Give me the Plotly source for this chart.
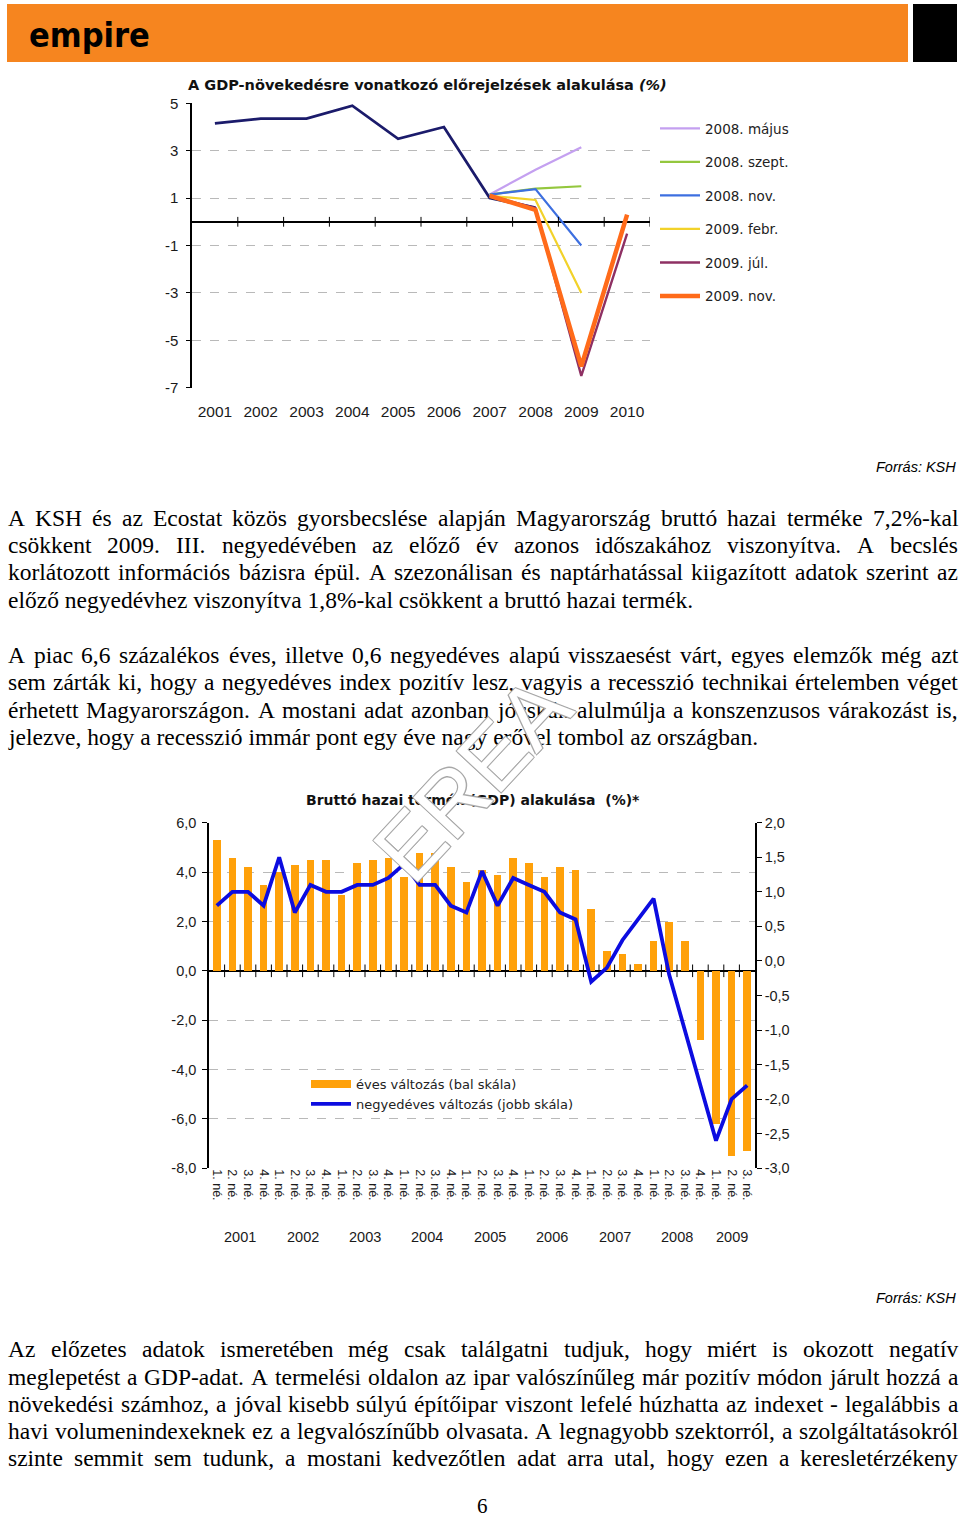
import numpy as np
import plotly.graph_objects as go

W, H = 960, 1521


def px(x):
    return x / W


def py(y):
    return 1 - y / H


# ---------------- top chart data ----------------
top_years = [2001, 2002, 2003, 2004, 2005, 2006, 2007, 2008, 2009, 2010]
actual_years = [2001, 2002, 2003, 2004, 2005, 2006, 2007, 2008]
actual_gdp = [4.15, 4.35, 4.35, 4.9, 3.5, 4.0, 1.0, 0.6]

fc_years3 = [2007, 2008, 2009]
fc_years4 = [2007, 2008, 2009, 2010]
fc_names = ["2008. május", "2008. szept.", "2008. nov.", "2009. febr.", "2009. júl.", "2009. nov."]
fc_2008_majus = [1.15, 2.2, 3.15]
fc_2008_szept = [1.15, 1.4, 1.5]
fc_2008_nov = [1.15, 1.38, -1.0]
fc_2009_febr = [1.1, 0.92, -3.0]
fc_2009_jul = [1.1, 0.58, -6.5, -0.5]
fc_2009_nov = [1.1, 0.5, -6.1, 0.3]
fc_colors = ["#c4a0f0", "#94c73e", "#3d6fe0", "#f2d22a", "#8e3063", "#ff6b1a"]
fc_widths = [2.2, 2.2, 2.2, 2.2, 2.4, 4.5]
top_yticks = [5, 3, 1, -1, -3, -5, -7]

# ---------------- bottom chart data ----------------
years = ["2001", "2002", "2003", "2004", "2005", "2006", "2007", "2008", "2009"]
quarters_per_year = [4, 4, 4, 4, 4, 4, 4, 4, 3]
quarter_labels = ["1. né.", "2. né.", "3. né.", "4. né."]
annual_change = [5.3, 4.6, 4.2, 3.5, 4.0, 4.3, 4.5, 4.5, 3.1, 4.4, 4.5, 4.6,
                 3.8, 4.8, 4.8, 4.2, 3.6, 4.1, 3.9, 4.6, 4.4, 3.8, 4.2, 4.1,
                 2.5, 0.8, 0.7, 0.3, 1.2, 2.0, 1.2, -2.8, -6.2, -7.5, -7.3]
quarterly_change = [0.8, 1.0, 1.0, 0.8, 1.5, 0.7, 1.1, 1.0, 1.0, 1.1, 1.1, 1.2,
                    1.4, 1.1, 1.1, 0.8, 0.7, 1.3, 0.8, 1.2, 1.1, 1.0, 0.7, 0.6,
                    -0.3, -0.1, 0.3, 0.6, 0.9, -0.2, -1.0, -1.8, -2.6, -2.0, -1.8]
left_ticks = [6, 4, 2, 0, -2, -4, -6, -8]
right_ticks = [2.0, 1.5, 1.0, 0.5, 0.0, -0.5, -1.0, -1.5, -2.0, -2.5, -3.0]
bar_name = "éves változás (bal skála)"
line_name = "negyedéves változás (jobb skála)"
bar_color = "#ffa10a"
line_color = "#0c0ce0"

# ---------------- page text ----------------
para1 = [
    "A KSH és az Ecostat közös gyorsbecslése alapján Magyarország bruttó hazai terméke 7,2%-kal",
    "csökkent 2009. III. negyedévében az előző év azonos időszakához viszonyítva. A becslés",
    "korlátozott információs bázisra épül. A szezonálisan és naptárhatással kiigazított adatok szerint az",
    "előző negyedévhez viszonyítva 1,8%-kal csökkent a bruttó hazai termék.",
]
para2 = [
    "A piac 6,6 százalékos éves, illetve 0,6 negyedéves alapú visszaesést várt, egyes elemzők még azt",
    "sem zárták ki, hogy a negyedéves index pozitív lesz, vagyis a recesszió technikai értelemben véget",
    "érhetett Magyarországon. A mostani adat azonban jócskán alulmúlja a konszenzusos várakozást is,",
    "jelezve, hogy a recesszió immár pont egy éve nagy erővel tombol az országban.",
]
para3 = [
    "Az előzetes adatok ismeretében még csak találgatni tudjuk, hogy miért is okozott negatív",
    "meglepetést a GDP-adat. A termelési oldalon az ipar valószínűleg már pozitív módon járult hozzá a",
    "növekedési számhoz, a jóval kisebb súlyú építőipar viszont lefelé húzhatta az indexet - legalábbis a",
    "havi volumenindexeknek ez a legvalószínűbb olvasata. A legnagyobb szektorról, a szolgáltatásokról",
    "szinte semmit sem tudunk, a mostani kedvezőtlen adat arra utal, hogy ezen a keresletérzékeny",
]

fig = go.Figure()

# ================= TOP CHART =================
fig.add_trace(go.Scatter(x=actual_years, y=actual_gdp, mode="lines",
                         line=dict(color="#1b1b6b", width=2.8), showlegend=False,
                         hoverinfo="skip", xaxis="x", yaxis="y"))
fc_series = [(fc_years3, fc_2008_majus), (fc_years3, fc_2008_szept), (fc_years3, fc_2008_nov),
             (fc_years3, fc_2009_febr), (fc_years4, fc_2009_jul), (fc_years4, fc_2009_nov)]
for name, (xs, ys), col, wd in zip(fc_names, fc_series, fc_colors, fc_widths):
    fig.add_trace(go.Scatter(x=xs, y=ys, mode="lines", name=name, legendgroup=name,
                             line=dict(color=col, width=wd), legend="legend",
                             xaxis="x", yaxis="y"))
# small ticks on zero line at category boundaries
fig.add_trace(go.Scatter(x=[y + 0.5 for y in top_years], y=[0] * len(top_years), mode="markers",
                         marker=dict(symbol="line-ns", size=7, line=dict(color="black", width=1)),
                         showlegend=False, hoverinfo="skip", xaxis="x", yaxis="y"))

# ================= BOTTOM CHART =================
q_year = []
q_lab = []
for yr, nq in zip(years, quarters_per_year):
    for k in range(nq):
        q_year.append(yr)
        q_lab.append(quarter_labels[k])
n_q = len(q_lab)
idx = np.arange(n_q)
q_bounds = np.arange(n_q + 1) - 0.5
y_bounds = np.concatenate([[0], np.cumsum(quarters_per_year)]) - 0.5
y_centers = (y_bounds[:-1] + y_bounds[1:]) / 2

fig.add_trace(go.Bar(x=idx, y=annual_change, marker=dict(color=bar_color, line=dict(width=0)),
                     width=0.48, name=bar_name, showlegend=False,
                     xaxis="x2", yaxis="y2"))
# legend proxy giving the wide swatch of the bar series
fig.add_trace(go.Scatter(x=[None], y=[None], mode="lines", line=dict(color=bar_color, width=8),
                         name=bar_name, legend="legend2", legendgroup="b1",
                         xaxis="x2", yaxis="y2"))
fig.add_trace(go.Scatter(x=q_bounds[1:-1], y=[0] * (n_q - 1), mode="markers",
                         marker=dict(symbol="line-ns", size=9, line=dict(color="black", width=1)),
                         showlegend=False, hoverinfo="skip", xaxis="x2", yaxis="y2"))
fig.add_trace(go.Scatter(x=idx, y=quarterly_change, mode="lines",
                         line=dict(color=line_color, width=3.8),
                         name=line_name, legend="legend2", legendgroup="b2",
                         xaxis="x2", yaxis="y3"))

axfont = dict(family="Liberation Sans, Arial", size=14.5, color="#1a1a1a")


def fmt(v):
    return f"{v:.1f}".replace(".", ",")


fig.update_layout(
    width=W, height=H, margin=dict(l=0, r=0, t=0, b=0, pad=0, autoexpand=False), autosize=False,
    paper_bgcolor="white", plot_bgcolor="white",
    bargap=0,
    xaxis=dict(domain=[px(192), px(650)], range=[2000.5, 2010.5], tickvals=top_years,
               ticktext=[str(y) for y in top_years], showgrid=False, zeroline=False,
               showline=False, ticks="", tickfont=dict(family="Liberation Sans, Arial", size=15.5, color="#1a1a1a"),
               ticklabelstandoff=13, anchor="y", automargin=False),
    yaxis=dict(domain=[py(387.7), py(103.3)], range=[-7, 5], tickvals=top_yticks,
               ticktext=[str(v) for v in top_yticks], showgrid=True, gridcolor="#b9b9b9",
               griddash="dash", gridwidth=1, zeroline=True, zerolinecolor="black",
               zerolinewidth=1.5, showline=True, linecolor="black", linewidth=1.5,
               ticks="outside", ticklen=4, tickcolor="black", automargin=False,
               ticklabelstandoff=5,
               tickfont=dict(family="Liberation Sans, Arial", size=15, color="#1a1a1a"), anchor="x"),
    xaxis2=dict(domain=[px(209), px(755)], range=[-0.5, n_q - 0.5], tickvals=idx,
                ticktext=q_lab, tickangle=90, showgrid=False, zeroline=False, showline=False,
                ticks="", tickfont=dict(family="Liberation Sans, Arial", size=12.5, color="#1a1a1a"),
                anchor="y2", automargin=False),
    xaxis3=dict(overlaying="x2", anchor="y2", range=[-0.5, n_q - 0.5], tickvals=q_bounds,
                ticks="outside", ticklen=36, tickcolor="black", tickwidth=1, automargin=False,
                showticklabels=False, showgrid=False, zeroline=False, showline=False),
    xaxis4=dict(overlaying="x2", anchor="y2", range=[-0.5, n_q - 0.5], tickvals=y_bounds,
                ticks="outside", ticklen=82, tickcolor="black", tickwidth=1.5, automargin=False,
                showticklabels=False, showgrid=False, zeroline=False, showline=False),
    yaxis2=dict(domain=[py(1168.3), py(822.7)], range=[-8, 6], tickvals=left_ticks,
                ticktext=[fmt(v) for v in left_ticks], showgrid=True, gridcolor="#b9b9b9",
                griddash="dash", gridwidth=1, zeroline=True, zerolinecolor="black",
                zerolinewidth=1.5, showline=True, linecolor="black", linewidth=1.5, automargin=False,
                ticks="outside", ticklen=5, tickcolor="black", tickfont=axfont, anchor="x2",
                ticklabelstandoff=3),
    yaxis3=dict(overlaying="y2", side="right", range=[-3, 2], tickvals=right_ticks,
                ticktext=[fmt(v) for v in right_ticks], showgrid=False, zeroline=False,
                showline=True, linecolor="black", linewidth=1.5, ticks="outside", ticklen=5,
                tickcolor="black", tickfont=axfont, anchor="x2", automargin=False),
    legend=dict(x=px(655), y=py(113), xanchor="left", yanchor="top", bgcolor="rgba(0,0,0,0)",
                font=dict(family="DejaVu Sans", size=13.5, color="#222"), itemwidth=40,
                tracegroupgap=13),
    legend2=dict(x=px(306), y=py(1069), xanchor="left", yanchor="top", bgcolor="rgba(0,0,0,0)",
                 font=dict(family="DejaVu Sans", size=13, color="#222"), itemwidth=40,
                 tracegroupgap=0),
)

shapes = [
    dict(type="rect", xref="paper", yref="paper", x0=px(7), x1=px(908), y0=py(62), y1=py(4),
         fillcolor="#f6851f", line=dict(width=0), layer="below"),
    dict(type="rect", xref="paper", yref="paper", x0=px(913), x1=px(957), y0=py(62), y1=py(4),
         fillcolor="black", line=dict(width=0), layer="below"),
]
fig.update_layout(shapes=shapes)

ann = []
# logo
ann.append(dict(text="<b>empire</b>", x=px(89), y=py(35), xref="paper", yref="paper",
                showarrow=False, xanchor="center", yanchor="middle",
                font=dict(family="DejaVu Sans Condensed, DejaVu Sans", size=34, color="black")))
# chart titles
ann.append(dict(text="<b>A GDP-növekedésre vonatkozó előrejelzések alakulása <i>(%)</i></b>",
                x=px(186), y=py(85), xref="paper", yref="paper", showarrow=False,
                xanchor="left", yanchor="middle",
                font=dict(family="DejaVu Sans", size=14.5, color="#111")))
ann.append(dict(text="<b>Bruttó hazai termék (GDP) alakulása\u00a0 (%)*</b>",
                x=px(473), y=py(800), xref="paper", yref="paper", showarrow=False,
                xanchor="center", yanchor="middle",
                font=dict(family="DejaVu Sans", size=14, color="#111")))
# year labels under bottom chart
for yr, c in zip(years, y_centers):
    ann.append(dict(text=yr, x=c, y=py(1237), xref="x2", yref="paper", showarrow=False,
                    xanchor="center", yanchor="middle", font=axfont))
# sources
for yy in (467, 1298):
    ann.append(dict(text="<i>Forrás: KSH</i>", x=px(958), y=py(yy), xref="paper", yref="paper",
                    showarrow=False, xanchor="right", yanchor="middle",
                    font=dict(family="Liberation Sans, Arial", size=14.5, color="black")))

# body text with justification
TNR = {' ': 250, '.': 250, ',': 250, '-': 333, '%': 833, ':': 278, '(': 333, ')': 333,
       'a': 444, 'b': 500, 'c': 444, 'd': 500, 'e': 444, 'f': 333, 'g': 500, 'h': 500,
       'i': 278, 'j': 278, 'k': 500, 'l': 278, 'm': 778, 'n': 500, 'o': 500, 'p': 500,
       'q': 500, 'r': 333, 's': 389, 't': 278, 'u': 500, 'v': 500, 'w': 722, 'x': 500,
       'y': 500, 'z': 444, 'A': 722, 'B': 667, 'C': 667, 'D': 722, 'E': 611, 'F': 556,
       'G': 722, 'H': 722, 'I': 333, 'J': 389, 'K': 722, 'L': 611, 'M': 889, 'N': 722,
       'O': 722, 'P': 556, 'Q': 722, 'R': 667, 'S': 556, 'T': 611, 'U': 722, 'V': 722,
       'W': 944, 'X': 722, 'Y': 722, 'Z': 611}
ACC = {'á': 'a', 'é': 'e', 'í': 'i', 'ó': 'o', 'ö': 'o', 'ő': 'o', 'ú': 'u', 'ü': 'u', 'ű': 'u',
       'Á': 'A', 'É': 'E', 'Í': 'I', 'Ó': 'O', 'Ö': 'O', 'Ő': 'O', 'Ú': 'U', 'Ü': 'U', 'Ű': 'U'}
FS = 23.5
body_font = dict(family="Liberation Serif, Times New Roman", size=FS, color="black")


def tw(s):
    return sum(TNR.get(ACC.get(c, c), 500) for c in s) * FS / 1000.0


def add_line(text, yc, justify, left=7, right=957):
    if not justify:
        ann.append(dict(text=text, x=px(left), y=py(yc), xref="paper", yref="paper",
                        showarrow=False, xanchor="left", yanchor="middle", borderpad=0,
                        font=body_font))
        return
    words = text.split(" ")
    widths = [tw(w) for w in words]
    gap = (right - left - sum(widths)) / (len(words) - 1)
    x = left
    for w, wd in zip(words, widths):
        ann.append(dict(text=w, x=px(x), y=py(yc), xref="paper", yref="paper",
                        showarrow=False, xanchor="left", yanchor="middle", borderpad=0,
                        font=body_font))
        x += wd + gap


p1_y = [518, 545, 572, 600]
p2_y = [655, 682, 710, 737]
p3_y = [1349, 1377, 1404, 1431, 1458]
for lines, ys, last_just in ((para1, p1_y, False), (para2, p2_y, False), (para3, p3_y, True)):
    for i, (t, yc) in enumerate(zip(lines, ys)):
        add_line(t, yc, justify=(i < len(lines) - 1) or last_just)

# page number (kept fully inside the page)
ann.append(dict(text="6", x=px(482), y=py(1519), xref="paper", yref="paper", showarrow=False,
                xanchor="center", yanchor="bottom", borderpad=0,
                font=dict(family="Liberation Serif, Times New Roman", size=21, color="black")))

# watermark
ann.append(dict(text="EREA", x=px(472), y=py(778), xref="paper", yref="paper", showarrow=False,
                xanchor="center", yanchor="middle", textangle=-47,
                font=dict(family="Liberation Sans, Arial", size=88, color="white",
                          shadow="1px 1px 0 #a8a8a8, -1px -1px 0 #a8a8a8, 1px -1px 0 #a8a8a8, -1px 1px 0 #a8a8a8")))

fig.update_layout(annotations=ann)
fig.write_html("out.html", post_script="document.body.style.margin='0px';")
